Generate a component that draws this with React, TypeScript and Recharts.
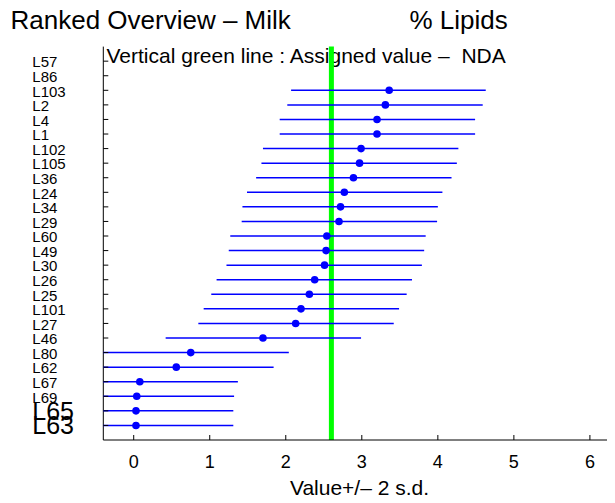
import React from 'react';
import { ScatterChart, Scatter, XAxis, YAxis, ReferenceLine } from 'recharts';

// labs, top to bottom
const labs = ['L57', 'L86', 'L103', 'L2', 'L4', 'L1', 'L102', 'L105', 'L36', 'L24', 'L34', 'L29', 'L60',
  'L49', 'L30', 'L26', 'L25', 'L101', 'L27', 'L46', 'L80', 'L62', 'L67', 'L69', 'L65', 'L63'];
// null = no result
const values = [null, null, 3.36, 3.31, 3.2, 3.2, 2.99, 2.97, 2.89, 2.77, 2.72, 2.7, 2.54,
  2.53, 2.51, 2.38, 2.31, 2.2, 2.13, 1.7, 0.75, 0.56, 0.08, 0.04, 0.03, 0.03];
const lows = [null, null, 2.07, 2.02, 1.92, 1.92, 1.7, 1.68, 1.61, 1.49, 1.43, 1.42, 1.27,
  1.25, 1.22, 1.09, 1.02, 0.92, 0.85, 0.42, -0.54, -0.73, -1.21, -1.25, -1.26, -1.26];
const highs = [null, null, 4.63, 4.59, 4.49, 4.49, 4.27, 4.25, 4.18, 4.06, 4.0, 3.99, 3.84,
  3.82, 3.79, 3.66, 3.59, 3.49, 3.42, 2.99, 2.04, 1.84, 1.37, 1.32, 1.31, 1.31];
const assignedValue = 2.6;
const xTicks = [0, 1, 2, 3, 4, 5, 6];

const bigLabs = ['L65', 'L63'];
const font = '"Liberation Sans", Arial, sans-serif';

const rows = labs.map((_, i) => labs.length - i);
const points = labs
  .map((lab, i) => ({ lab, row: labs.length - i, value: values[i] }))
  .filter((d) => d.value != null);
// one +/- 2 s.d. segment per lab
const segs = labs
  .map((lab, i) => ({
    lab,
    data: [
      { row: labs.length - i, value: lows[i] },
      { row: labs.length - i, value: highs[i] },
    ],
  }))
  .filter((s) => s.data[0].value != null);

const YTick = (props: any) => {
  const { x, y, payload } = props;
  const lab = labs[labs.length - payload.value];
  const big = bigLabs.includes(lab);
  return (
    <g>
      <line x1={x} x2={x + 5} y1={y} y2={y} stroke="#000" />
      <text x={x - 71} y={y + (big ? 8.8 : 6.3)} fontSize={big ? 25 : 15} fontFamily={font} fill="#000">
        {lab}
      </text>
    </g>
  );
};

const XTick = (props: any) => {
  const { x, y, payload } = props;
  return (
    <g>
      <line x1={x} x2={x} y1={y} y2={y - 5} stroke="#000" />
      <text x={x} y={y + 27.7} textAnchor="middle" fontSize={18} fontFamily={font} fill="#000">
        {payload.value}
      </text>
    </g>
  );
};

const Dot = (props: any) => <circle cx={props.cx} cy={props.cy} r={3.8} fill="#0000ff" />;
const NoDot = () => <g />;

export default function App() {
  return (
    <div style={{ position: 'relative', width: 607, height: 495 }}>
      <svg width={607} height={495} style={{ position: 'absolute', left: 0, top: 0 }}>
        <text x={2.5} y={20.5} fontSize={26} fontFamily={font} fill="#000">
          Ranked Overview – Milk
        </text>
        <text x={401.5} y={20.5} fontSize={26} fontFamily={font} fill="#000">
          % Lipids
        </text>
        <text x={98.5} y={55} fontSize={21} fontFamily={font} fill="#000" style={{ whiteSpace: 'pre' }}>
          {'Vertical green line : Assigned value –  NDA'}
        </text>
        <text x={351.5} y={487} textAnchor="middle" fontSize={21} fontFamily={font} fill="#000">
          Value+/– 2 s.d.
        </text>
      </svg>
      <div style={{ position: 'relative' }}>
        <ScatterChart width={607} height={495} margin={{ top: 38.6, right: 0, bottom: 0, left: 0 }}>
          <XAxis
            type="number"
            dataKey="value"
            domain={[-0.4, 6.33]}
            allowDataOverflow
            ticks={xTicks}
            interval={0}
            tickSize={0}
            tickMargin={0}
            tickLine={false}
            tick={<XTick />}
            height={63}
            axisLine={{ stroke: '#000' }}
          />
          <YAxis
            type="number"
            dataKey="row"
            domain={[0, 27]}
            allowDataOverflow
            ticks={rows}
            interval={0}
            tickSize={0}
            tickMargin={0}
            tickLine={false}
            tick={<YTick />}
            width={95.3}
            axisLine={{ stroke: '#000' }}
          />
          {segs.map((s) => (
            <Scatter
              key={s.lab}
              data={s.data}
              line={{ stroke: '#0000ff', strokeWidth: 1.5 }}
              shape={<NoDot />}
              isAnimationActive={false}
            />
          ))}
          <Scatter data={points} shape={<Dot />} isAnimationActive={false} />
          <ReferenceLine x={assignedValue} stroke="#00ff00" strokeWidth={5} />
        </ScatterChart>
      </div>
    </div>
  );
}
